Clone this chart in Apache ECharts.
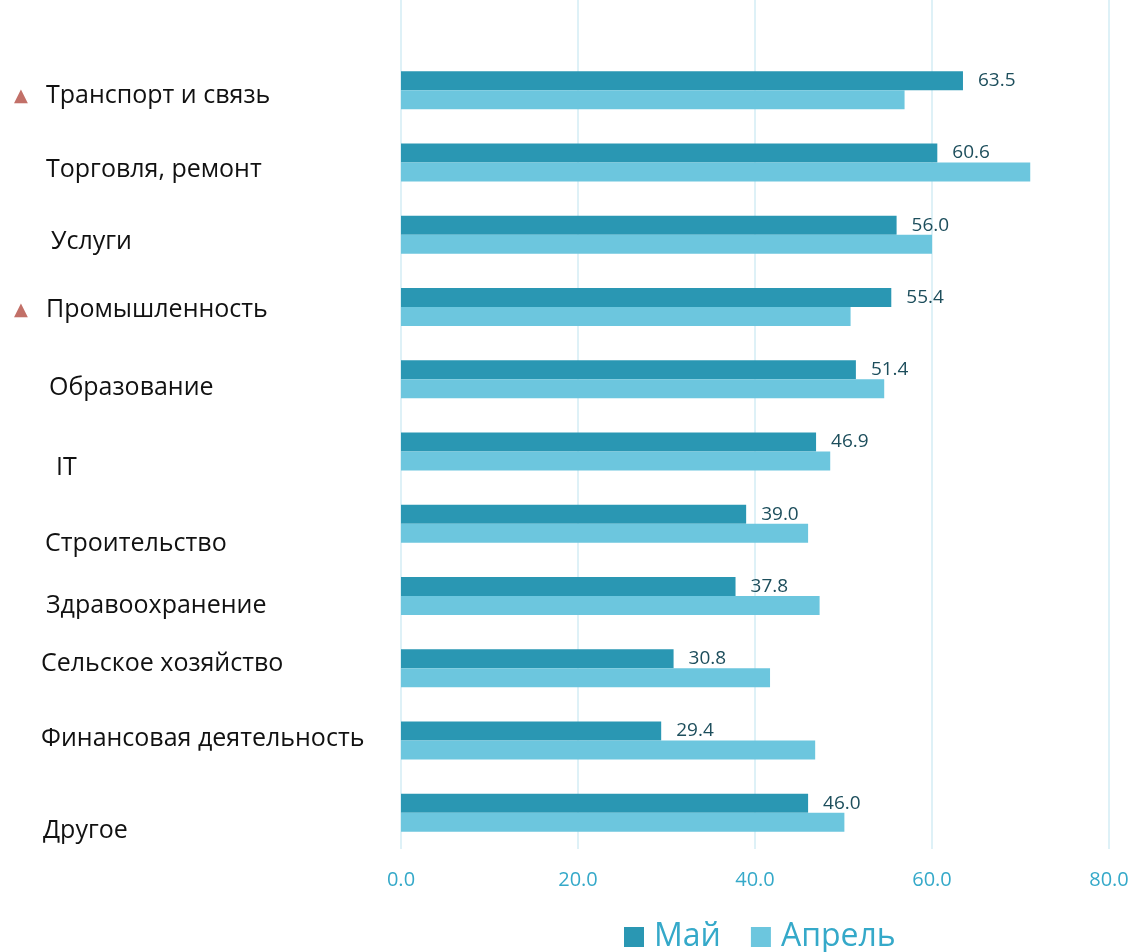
<!DOCTYPE html>
<html>
<head>
<meta charset="utf-8">
<script src="https://cdn.jsdelivr.net/npm/echarts@6/dist/echarts.min.js"></script>
<style>
  html, body { margin: 0; padding: 0; background: #ffffff; }
  #chart { width: 1132px; height: 952px; }
</style>
</head>
<body>
<div id="chart"></div>
<script>
// ---- data ----
const categories = [
  'Транспорт и связь', 'Торговля, ремонт', 'Услуги', 'Промышленность',
  'Образование', 'IT', 'Строительство', 'Здравоохранение',
  'Сельское хозяйство', 'Финансовая деятельность', 'Другое'
];
const rising = [true, false, false, true, false, false, false, false, false, false, false];
const mayValues = [63.5, 60.6, 56.0, 55.4, 51.4, 46.9, 39.0, 37.8, 30.8, 29.4, 46.0];
const aprilValues = [56.9, 71.1, 60.0, 50.8, 54.6, 48.5, 46.0, 47.3, 41.7, 46.8, 50.1];
const seriesNames = ['Май', 'Апрель'];
const xTicks = [0, 20, 40, 60, 80];

// ---- layout (label nudges, px) ----
const labelDx = [0, 32, 37, 0, 35, 42, 31, 32, 27, 27, 29];
const labelDy = [6, 7, 7, 3, 9, 16, 20, 10, -4, -2, 18];

const FONT = '"Open Sans", sans-serif';
const gridColor = '#d3edf5';

const yData = categories.map((c, i) => ({
  value: c,
  textStyle: {
    align: 'left',
    padding: [Math.max(0, 2 * labelDy[i]), 0, Math.max(0, -2 * labelDy[i]), labelDx[i]]
  }
}));

const chart = echarts.init(document.getElementById('chart'));
chart.setOption({
  backgroundColor: '#ffffff',
  animation: false,
  grid: [
    { left: 401, right: 23, top: 0, bottom: 103, outerBoundsMode: 'none', containLabel: false },
    { left: 401, right: 23, top: 54, height: 795, outerBoundsMode: 'none', containLabel: false }
  ],
  xAxis: [
    {
      gridIndex: 0, type: 'value', min: 0, max: 80, interval: 20,
      axisLine: { show: false }, axisTick: { show: false }, axisLabel: { show: false },
      splitLine: { show: true, lineStyle: { color: gridColor, width: 1.5 } }
    },
    {
      gridIndex: 1, type: 'value', min: xTicks[0], max: xTicks[xTicks.length - 1], interval: 20,
      axisLine: { show: false }, axisTick: { show: false },
      splitLine: { show: false },
      axisLabel: {
        margin: 21,
        color: '#35a9c9', fontFamily: FONT, fontSize: 20,
        formatter: v => v.toFixed(1)
      }
    }
  ],
  yAxis: [
    {
      gridIndex: 0, type: 'category', data: categories, inverse: true, show: false
    },
    {
      gridIndex: 1, type: 'category', data: yData, inverse: true,
      axisLine: { show: false }, axisTick: { show: false }, splitLine: { show: false },
      axisLabel: {
        margin: 387, align: 'left', color: '#111111',
        fontFamily: FONT, fontSize: 25,
        formatter: (v, i) => (rising[i] ? '{tri|▲}' : '') + v,
        rich: {
          tri: { width: 32, align: 'left', color: '#c27068', fontSize: 18, fontFamily: 'DejaVu Sans' }
        }
      }
    }
  ],
  legend: {
    left: 619, top: 916,
    itemWidth: 20, itemHeight: 20, itemGap: 30,
    icon: 'rect',
    textStyle: { color: '#35a9c9', fontFamily: FONT, fontSize: 32, padding: [0, 0, 0, 5] },
    data: seriesNames
  },
  series: [
    {
      name: seriesNames[0], type: 'bar', xAxisIndex: 1, yAxisIndex: 1,
      data: mayValues, barWidth: 19, barGap: '0%',
      itemStyle: { color: '#2a97b3' },
      label: {
        show: true, position: 'right', distance: 15,
        color: '#1d4e5c', fontFamily: FONT, fontSize: 19,
        formatter: p => p.value.toFixed(1)
      }
    },
    {
      name: seriesNames[1], type: 'bar', xAxisIndex: 1, yAxisIndex: 1,
      data: aprilValues, barWidth: 19, barGap: '0%',
      itemStyle: { color: '#6cc6de' }
    }
  ]
});
</script>
</body>
</html>
